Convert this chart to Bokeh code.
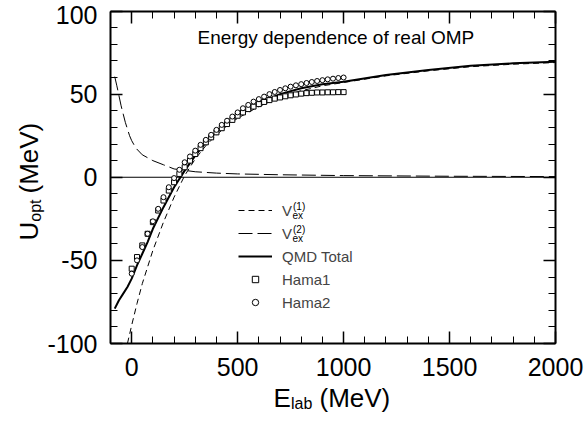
from bokeh.plotting import figure
from bokeh.models import (Range1d, LinearAxis, SingleIntervalTicker, FixedTicker, Label,
                          Legend, LegendItem, CustomJSTickFormatter)
from bokeh.embed import file_html
from bokeh.resources import INLINE
import math

# ---------------- data ----------------
tot_E = [-80, -60, -40, -20, 0, 25, 50, 75, 100, 150, 200, 250, 300, 350, 400, 450,
         500, 600, 700, 800, 900, 1000, 1200, 1400, 1600, 1800, 2000]
tot_U = [-79, -74, -70, -66, -61, -53, -46, -39, -31, -18, -6, 4, 13, 21, 27.5, 32.5,
         37, 44.5, 50, 53.5, 56, 57.5, 61.5, 64.5, 67, 68.5, 69.5]

vex1_E = [-20, 0, 25, 50, 75, 100, 150, 200, 250, 300, 350, 400, 450, 500, 600, 700,
          800, 900, 1000, 1200, 1400, 1600, 1800, 2000]
vex1_U = [-100, -89, -76, -64, -54, -44, -27, -12, 1, 11, 19, 25.5, 31, 35.5, 42.5, 48,
          52, 55, 57, 61, 64, 66.5, 68, 69]

vex2_E = [-80, -70, -60, -50, -40, -30, -20, -10, 0, 20, 50, 100, 150, 200, 300, 400,
          500, 700, 1000, 1500, 2000]
vex2_U = [60.5, 55, 49, 43, 38, 33, 29, 25, 22, 17.5, 13.5, 10, 7.5, 5, 3.3, 2.5,
          2, 1.5, 1, 0.6, 0.4]

hama_E = [0, 25, 50, 75, 100, 125, 150, 175, 200, 225, 250, 275, 300, 325, 350, 375,
          400, 425, 450, 475, 500, 525, 550, 575, 600, 625, 650, 675, 700, 725, 750,
          775, 800, 825, 850, 875, 900, 925, 950, 975, 1000]
hama1_U = [-55, -48, -41, -34, -27, -20, -14, -8, -3, 2, 6, 10, 14, 17.5, 21, 24,
           27, 29.5, 32, 34.5, 37, 39, 41, 42.5, 44, 45.3, 46.4, 47.3, 48, 48.7, 49.3,
           49.8, 50.3, 50.6, 50.8, 51, 51, 51.1, 51.1, 51.2, 51.2]
hama2_U = [-58, -50, -42, -34, -26.5, -19, -12, -6, -0.5, 4.5, 9, 12.5, 16, 19.5, 22.5, 25.5,
           28.5, 31.5, 34, 36.5, 39, 41.5, 43.5, 45.5, 47, 48.5, 50, 51.3, 52.5, 53.5, 54.5,
           55.3, 56, 56.7, 57.3, 57.9, 58.4, 58.9, 59.3, 59.7, 60]

legend_labels = ["V", "V", "QMD Total", "Hama1", "Hama2"]
title_text = "Energy dependence of real OMP"

# ---------------- layout ----------------
W, H = 586, 425
FL, FR, FT, FB = 110, 555, 10.5, 343          # plotting box in canvas pixels
X0, X1, Y0, Y1 = -100, 2000, -100, 100        # data limits of the box
FONT = "Liberation Sans"


def dx(px):
    return X0 + (px - FL) * (X1 - X0) / (FR - FL)


def dy(py):
    return Y1 - (py - FT) * (Y1 - Y0) / (FB - FT)


# the frame covers the whole canvas; the box is drawn by fixed-location axes
p = figure(width=W, height=H, x_range=Range1d(dx(0), dx(W)), y_range=Range1d(dy(H), dy(0)),
           output_backend="svg", toolbar_location=None,
           x_axis_location=None, y_axis_location=None,
           min_border=0)
p.grid.visible = False
p.outline_line_color = None
p.background_fill_color = "white"
p.border_fill_color = "white"

xt = SingleIntervalTicker(interval=500, num_minor_ticks=5)
yt = SingleIntervalTicker(interval=50, num_minor_ticks=5)
num_fmt = CustomJSTickFormatter(code="return tick >= 100 && tick <= 100 ? '' : String(tick)")
blank = CustomJSTickFormatter(code="return ''")


def make_axis(ticker, loc, bounds, standoff=None):
    ax = LinearAxis(ticker=ticker, fixed_location=loc, bounds=bounds)
    ax.major_tick_in = 12
    ax.major_tick_out = 0
    ax.minor_tick_in = 7
    ax.minor_tick_out = 0
    ax.axis_line_width = 2
    ax.axis_line_color = "black"
    ax.major_tick_line_width = 1.5
    ax.minor_tick_line_width = 1
    ax.major_tick_line_color = "black"
    ax.minor_tick_line_color = "black"
    if standoff is not None:
        ax.formatter = num_fmt
        ax.major_label_text_font = FONT
        ax.major_label_text_font_size = "25px"
        ax.major_label_text_color = "black"
        ax.major_label_standoff = standoff
    else:
        ax.formatter = blank
        ax.major_label_standoff = 0
    return ax


p.add_layout(make_axis(xt, Y0, (X0, X1), 14), "below")
p.add_layout(make_axis(xt, Y1, (X0, X1)), "above")
p.add_layout(make_axis(yt, X0, (Y0, Y1), 13), "left")
p.add_layout(make_axis(yt, X1, (Y0, Y1)), "right")

# top "100" label, nudged down so it stays inside the page like the reference
top_lab = LinearAxis(ticker=FixedTicker(ticks=[dy(14)]), fixed_location=X0,
                     formatter=CustomJSTickFormatter(code="return '100'"))
top_lab.axis_line_color = None
top_lab.major_tick_line_color = None
top_lab.minor_tick_line_color = None
top_lab.major_tick_out = 0
top_lab.major_tick_in = 0
top_lab.major_label_text_font = FONT
top_lab.major_label_text_font_size = "25px"
top_lab.major_label_text_color = "black"
top_lab.major_label_standoff = 13
p.add_layout(top_lab, "left")

# zero reference line across the box
p.segment(x0=[X0], x1=[X1], y0=[0], y1=[0], line_color="black", line_width=1)

r1 = p.line(vex1_E, vex1_U, line_color="black", line_width=1, line_dash="6 4")
r2 = p.line(vex2_E, vex2_U, line_color="black", line_width=1, line_dash="14 5")
r3 = p.line(tot_E, tot_U, line_color="black", line_width=2)
r4 = p.scatter(hama_E, hama1_U, marker="square", size=5, fill_color="white",
               line_color="black", line_width=1)
r5 = p.scatter(hama_E, hama2_U, marker="circle", size=5, fill_color="white",
               line_color="black", line_width=1)

leg = Legend(items=[LegendItem(label=l, renderers=[r]) for l, r in
                    zip(legend_labels, [r1, r2, r3, r4, r5])],
             location=(238, 114.5), glyph_width=34, glyph_height=16, label_height=16,
             spacing=6, padding=0, margin=0, label_standoff=10,
             label_text_font=FONT, label_text_font_size="15px",
             border_line_color=None, background_fill_alpha=0)
p.add_layout(leg)


def lab(px, py, text, size, angle=0.0):
    p.add_layout(Label(x=dx(px), y=dy(py), text=text, text_font=FONT, angle=angle,
                       text_font_size=size, text_baseline="middle", text_align="left",
                       text_color="black"))


# sub/superscripts of V_ex^(1), V_ex^(2)
for row, sup in ((210, "(1)"), (233, "(2)")):
    lab(292, row + 5, "ex", "10px")
    lab(292.5, row - 4, sup, "10px")

# title inside the plot
lab(197, 36.5, title_text, "19px")

# x axis label: E_lab (MeV)
lab(273, 397.5, "E", "26px")
lab(290.5, 402.5, "lab", "16px")
lab(319, 397.5, "(MeV)", "26px")

# y axis label: U_opt (MeV), rotated
a = math.pi / 2
lab(28.5, 240, "U", "26px", a)
lab(34.5, 221.2, "opt", "16px", a)
lab(28.5, 193, "(MeV)", "26px", a)

open("out.html", "w").write(file_html(p, INLINE))
